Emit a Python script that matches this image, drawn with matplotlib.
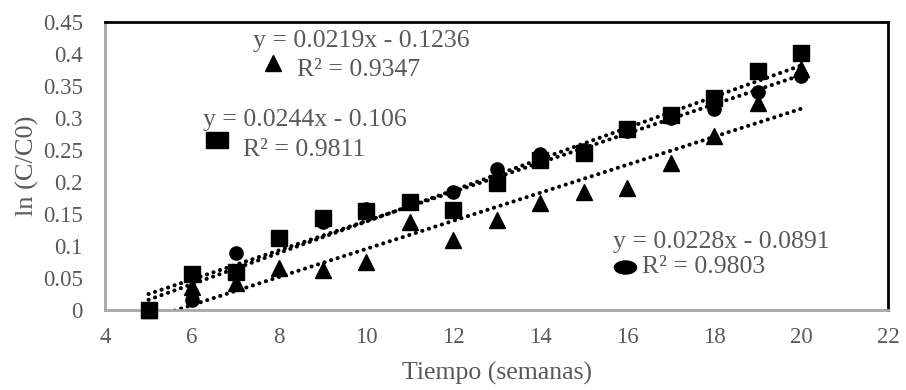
import matplotlib
matplotlib.use("Agg")
import matplotlib.pyplot as plt
from matplotlib.markers import MarkerStyle
from matplotlib.transforms import Affine2D
import numpy as np

plt.rcParams['font.family'] = ['Liberation Serif', 'DejaVu Serif']

# Weeks and ln(C/C0) for the three series
weeks = [5, 6, 7, 8, 9, 10, 11, 12, 13, 14, 15, 16, 17, 18, 19, 20]
squares = [0.000, 0.057, 0.060, 0.112, 0.143, 0.155, 0.168, 0.156,
           0.198, 0.234, 0.246, 0.283, 0.304, 0.332, 0.374, 0.402]
circles = [0.000, 0.016, 0.089, 0.112, 0.137, 0.158, 0.170, 0.184,
           0.221, 0.244, 0.250, 0.280, 0.300, 0.314, 0.340, 0.366]
triangles = [0.000, 0.036, 0.042, 0.065, 0.062, 0.075, 0.137, 0.109,
             0.140, 0.167, 0.184, 0.190, 0.229, 0.272, 0.324, 0.377]

# Linear trendlines (slope, intercept, R²)
fit_squares = (0.0244, -0.106, 0.9811)
fit_circles = (0.0228, -0.0891, 0.9803)
fit_triangles = (0.0219, -0.1236, 0.9347)

x_ticks = [4, 6, 8, 10, 12, 14, 16, 18, 20, 22]
y_ticks = [0, 0.05, 0.1, 0.15, 0.2, 0.25, 0.3, 0.35, 0.4, 0.45]
y_tick_labels = ['0', '0.05', '0.1', '0.15', '0.2', '0.25', '0.3', '0.35', '0.4', '0.45']

GRAY = '#595959'

fig = plt.figure(figsize=(9.06, 3.9), dpi=100)
ax = fig.add_axes([105 / 906, 1 - 310 / 390, (888 - 105) / 906, (310 - 22) / 390])

# trendlines over the data range
xf = np.array([weeks[0], weeks[-1]], dtype=float)
for slope, icpt, _ in (fit_squares, fit_circles, fit_triangles):
    ax.plot(xf, slope * xf + icpt, color='black', lw=2.9,
            linestyle=(0, (0.05, 1.65)), dash_capstyle='round', zorder=2)

ax.plot(weeks, squares, linestyle='none', marker='s', ms=11.5,
        color='black', clip_on=False, zorder=3)
ax.plot(weeks, circles, linestyle='none', marker='o', ms=9.5,
        color='black', clip_on=False, zorder=3)
ax.plot(weeks, triangles, linestyle='none', marker='^', ms=12,
        color='black', clip_on=False, zorder=3)

ax.set_xlim(4, 22)
ax.set_ylim(0, 0.45)
ax.set_xticks(x_ticks)
ax.set_yticks(y_ticks)
ax.set_yticklabels(y_tick_labels)
ax.tick_params(axis='both', length=0, labelsize=16.5, labelcolor=GRAY)
ax.tick_params(axis='y', pad=16)
ax.tick_params(axis='x', pad=12)

for side in ('left', 'bottom'):
    ax.spines[side].set_color('#A6A6A6')
    ax.spines[side].set_linewidth(2)
for side in ('top', 'right'):
    ax.spines[side].set_color('black')
    ax.spines[side].set_linewidth(2)

ax.set_xlabel('Tiempo (semanas)', fontsize=18.5, color=GRAY, labelpad=10)
ax.set_ylabel('ln (C/C0)', fontsize=19, color=GRAY, labelpad=3)


def fit_label(fit, x1, y1, x2, y2):
    slope, icpt, r2 = fit
    ax.text(x1, y1, f'y = {slope:g}x - {abs(icpt):g}', ha='center', va='center',
            fontsize=18.5, color=GRAY, zorder=4)
    ax.text(x2, y2, f'R² = {r2:.4f}', ha='center', va='center',
            fontsize=18.5, color=GRAY, zorder=4)


fit_label(fit_triangles, 9.885, 0.420, 9.82, 0.375)
fit_label(fit_squares, 8.60, 0.297, 8.575, 0.250)
fit_label(fit_circles, 18.17, 0.106, 17.77, 0.067)

# series keys beside the trendline labels
ax.plot([7.86], [0.386], linestyle='none', color='black', ms=11,
        marker=MarkerStyle('^', transform=Affine2D().scale(1.05, 1.0)))
ax.plot([6.57], [0.266], linestyle='none', color='black', ms=12.2,
        marker=MarkerStyle('s', transform=Affine2D().scale(1.3, 1.0)))
ax.plot([15.95], [0.067], linestyle='none', color='black', ms=9.4,
        marker=MarkerStyle('o', transform=Affine2D().scale(1.7, 1.0)))

fig.savefig('out.png', dpi=100)
